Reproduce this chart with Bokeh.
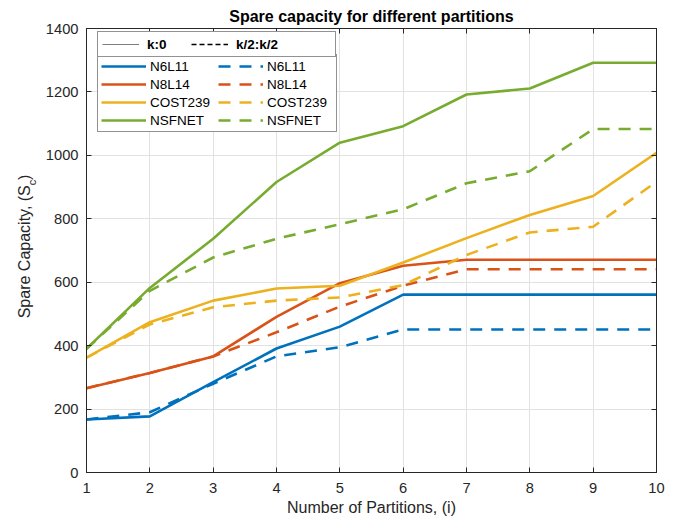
import math
from bokeh.plotting import figure
from bokeh.layouts import row
from bokeh.models import (Range1d, FixedTicker, LinearAxis, Legend, LegendItem,
                          Label, CustomJSTickFormatter, Title)
from bokeh.embed import file_html
from bokeh.resources import INLINE

# ---------------- data ----------------
partitions = [1, 2, 3, 4, 5, 6, 7, 8, 9, 10]
y_ticks = [0, 200, 400, 600, 800, 1000, 1200, 1400]
names = ["N6L11", "N8L14", "COST239", "NSFNET"]

n6l11_k0 = [167, 177, 285, 391, 460, 561, 561, 561, 561, 561]
n8l14_k0 = [266, 314, 366, 491, 597, 652, 671, 671, 671, 671]
cost239_k0 = [362, 474, 542, 580, 589, 662, 739, 812, 872, 1008]
nsfnet_k0 = [390, 582, 737, 916, 1040, 1092, 1192, 1211, 1292, 1292]

n6l11_k2 = [167, 190, 280, 366, 395, 451, 451, 451, 451, 451]
n8l14_k2 = [266, 314, 366, 442, 523, 589, 641, 641, 641, 641]
cost239_k2 = [362, 467, 521, 542, 552, 591, 686, 757, 775, 917]
nsfnet_k2 = [390, 573, 678, 737, 783, 830, 912, 950, 1083, 1083]

solid_series = [n6l11_k0, n8l14_k0, cost239_k0, nsfnet_k0]
dashed_series = [n6l11_k2, n8l14_k2, cost239_k2, nsfnet_k2]
colors = ["#0072BD", "#D95319", "#EDB120", "#77AC30"]

FONT = "Liberation Sans"
AX = "#262626"
H = 515
STRIP_W = 40

p = figure(frame_width=570, frame_height=444, x_range=Range1d(1, 10), y_range=Range1d(0, 1400),
           output_backend="svg", toolbar_location=None,
           min_border_left=86 - STRIP_W, min_border_right=11, min_border_top=28, min_border_bottom=43,
           background_fill_color="white", border_fill_color="white")
p.title = Title(text="Spare capacity for different partitions", align="center",
                text_font=FONT, text_font_size="16px", text_font_style="bold",
                text_color="#000000", standoff=7)
p.outline_line_color = AX
p.outline_line_width = 1

p.xaxis.ticker = FixedTicker(ticks=partitions)
p.yaxis.ticker = FixedTicker(ticks=y_ticks)
p.xgrid.ticker = FixedTicker(ticks=partitions)
p.ygrid.ticker = FixedTicker(ticks=y_ticks)
p.grid.grid_line_color = "#e2e2e2"
p.grid.grid_line_width = 1

for ax in p.axis:
    ax.major_tick_in = 5
    ax.major_tick_out = 0
    ax.minor_tick_line_color = None
    ax.axis_line_color = AX
    ax.major_tick_line_color = AX
    ax.major_label_text_color = AX
    ax.major_label_text_font = FONT
    ax.major_label_text_font_size = "14.7px"
p.xaxis.major_label_standoff = 10
p.yaxis.major_label_standoff = 8
p.xaxis.axis_label = "Number of Partitions, (i)"
p.xaxis.axis_label_text_font = FONT
p.xaxis.axis_label_text_font_size = "16px"
p.xaxis.axis_label_text_font_style = "normal"
p.xaxis.axis_label_text_color = AX
p.xaxis.axis_label_standoff = 3

# box ticks on top / right
top_ax = LinearAxis(ticker=FixedTicker(ticks=partitions),
                    formatter=CustomJSTickFormatter(code="return ''"))
right_ax = LinearAxis(ticker=FixedTicker(ticks=y_ticks),
                      formatter=CustomJSTickFormatter(code="return ''"))
for ax in (top_ax, right_ax):
    ax.major_tick_in = 5
    ax.major_tick_out = 0
    ax.minor_tick_line_color = None
    ax.axis_line_color = AX
    ax.major_tick_line_color = AX
    ax.major_label_text_font_size = "1px"
    ax.major_label_standoff = 0
p.add_layout(top_ax, "above")
p.add_layout(right_ax, "right")

# ---------------- lines ----------------
solid_r = []
dashed_r = []
for vals, c in zip(solid_series, colors):
    solid_r.append(p.line(partitions, vals, line_color=c, line_width=2.6))
for vals, c in zip(dashed_series, colors):
    dashed_r.append(p.line(partitions, vals, line_color=c, line_width=2.6, line_dash="12 9"))

# header legend sample renderers (no visible data)
nan = float("nan")
h1 = p.line(x=[nan], y=[nan], line_color="#7f7f7f", line_width=1.2)
h2 = p.line(x=[nan], y=[nan], line_color="#000000", line_width=1.5, line_dash="5 3")

header = Legend(items=[LegendItem(label="k:0", renderers=[h1]),
                       LegendItem(label="k/2:k/2" + "\u00a0" * 14, renderers=[h2])],
                orientation="horizontal", location=(11, 415),
                glyph_width=37, glyph_height=16, label_height=16, label_width=30,
                label_standoff=8, spacing=14, padding=4, margin=0,
                label_text_font=FONT, label_text_font_style="bold",
                label_text_font_size="13.5px", label_text_color="#000000",
                border_line_color=AX, border_line_width=1,
                background_fill_color="white", background_fill_alpha=1)

body_items = [LegendItem(label=n, renderers=[r]) for n, r in zip(names, solid_r)] + \
             [LegendItem(label=n, renderers=[r]) for n, r in zip(names, dashed_r)]
body = Legend(items=body_items, ncols=2, location=(11, 340),
              glyph_width=45, glyph_height=16, label_height=16, label_width=66,
              label_standoff=4, spacing=2, padding=3, margin=0,
              label_text_font=FONT, label_text_font_size="13.5px", label_text_color="#000000",
              border_line_color=AX, border_line_width=1,
              background_fill_color="white", background_fill_alpha=1)
p.add_layout(body)
p.add_layout(header)

# ---------------- y-axis label strip (with subscript) ----------------
ys = figure(width=STRIP_W, height=H, x_range=Range1d(0, STRIP_W), y_range=Range1d(0, H),
            output_backend="svg", toolbar_location=None, title=None,
            min_border=0, background_fill_color="white", border_fill_color="white")
ys.axis.visible = False
ys.grid.visible = False
ys.outline_line_color = None
anchor_y = H - 183
ys.add_layout(Label(x=23.5, y=anchor_y, angle=math.pi / 2,
                    text="Spare Capacity, (S", text_align="right", text_baseline="middle",
                    text_font=FONT, text_font_size="16px", text_color=AX))
ys.add_layout(Label(x=31, y=anchor_y, angle=math.pi / 2,
                    text="c", text_align="left", text_baseline="middle",
                    text_font=FONT, text_font_size="11px", text_color=AX))
ys.add_layout(Label(x=23.5, y=anchor_y + 6, angle=math.pi / 2,
                    text=")", text_align="left", text_baseline="middle",
                    text_font=FONT, text_font_size="16px", text_color=AX))

layout = row(ys, p)
open("out.html", "w").write(file_html(layout, INLINE))
